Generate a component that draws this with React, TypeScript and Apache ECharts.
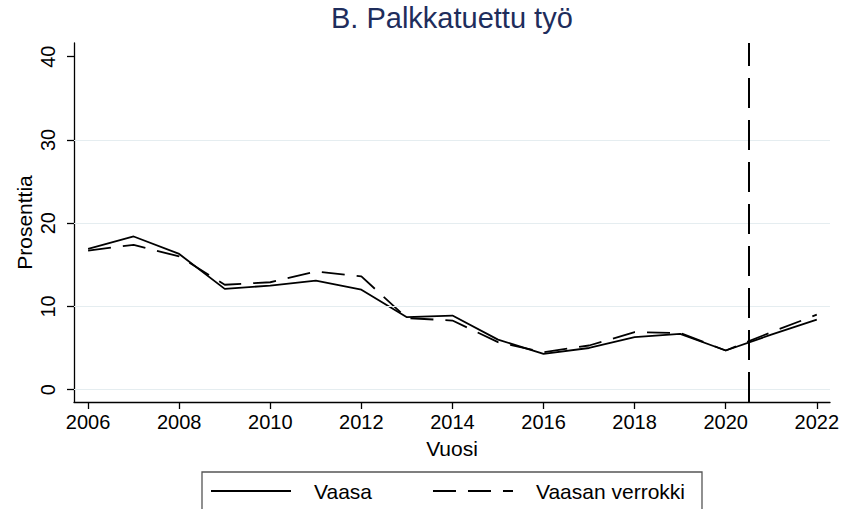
import React, { useEffect, useRef } from "react";
import * as echarts from "echarts";

const years = [2006, 2007, 2008, 2009, 2010, 2011, 2012, 2013, 2014, 2015, 2016, 2017, 2018, 2019, 2020, 2021, 2022];
const vaasa = [16.9, 18.4, 16.3, 12.1, 12.5, 13.1, 12.0, 8.7, 8.9, 6.0, 4.3, 5.0, 6.3, 6.7, 4.7, 6.6, 8.4];
const verrokki = [16.7, 17.4, 16.0, 12.6, 12.9, 14.2, 13.6, 8.6, 8.3, 5.7, 4.5, 5.3, 6.9, 6.8, 4.7, 6.9, 9.0];
const xTickLabels = [2006, 2008, 2010, 2012, 2014, 2016, 2018, 2020, 2022];
const yTickLabels = [0, 10, 20, 30, 40];
const gridValues = [0, 10, 20, 30];
const referenceYear = 2020.5;

const FONT = "'Liberation Sans', Arial, sans-serif";

export default function App() {
  const ref = useRef<HTMLDivElement>(null);
  useEffect(() => {
    if (!ref.current) return;
    const chart = echarts.init(ref.current, null, { renderer: "svg" });
    chart.setOption({
      animation: false,
      backgroundColor: "#ffffff",
      textStyle: { fontFamily: FONT },
      title: {
        text: "B. Palkkatuettu työ",
        left: 331,
        top: 2,
        padding: 0,
        textStyle: { fontFamily: FONT, fontSize: 29, fontWeight: "normal", color: "#1e2d5c", lineHeight: 32 },
      },
      legend: {
        data: ["Vaasa", "Vaasan verrokki"],
        left: 202,
        top: 472,
        orient: "horizontal",
        padding: [7, 17, 14, 8],
        itemGap: 60,
        itemWidth: 80,
        itemHeight: 14,
        borderColor: "#555555",
        borderWidth: 1.3,
        borderRadius: 0,
        itemStyle: { color: "rgba(0,0,0,0)", borderColor: "rgba(0,0,0,0)", borderWidth: 0 },
        textStyle: { fontFamily: FONT, fontSize: 21, color: "#000", lineHeight: 24, padding: [0, 0, 0, 18] },
      },
      grid: { left: 74, right: 16, top: 43, bottom: 107, containLabel: false },
      xAxis: {
        type: "value",
        min: 2005.69,
        max: 2022.29,
        name: "Vuosi",
        nameLocation: "middle",
        nameGap: 36,
        nameMoveOverlap: false,
        nameTextStyle: { fontFamily: FONT, fontSize: 21, color: "#000" },
        axisLine: { show: true, onZero: false, lineStyle: { color: "#000", width: 1.3 } },
        axisTick: { show: true, length: 7, lineStyle: { color: "#000", width: 1.3 }, customValues: xTickLabels },
        axisLabel: { fontFamily: FONT, fontSize: 20, color: "#000", margin: 10, customValues: xTickLabels, formatter: (v: number) => String(v) },
        splitLine: { show: false },
      },
      yAxis: {
        type: "value",
        min: -1.49,
        max: 41.65,
        name: "Prosenttia",
        nameLocation: "middle",
        nameGap: 39,
        nameMoveOverlap: false,
        nameTextStyle: { fontFamily: FONT, fontSize: 21, color: "#000" },
        axisLine: { show: true, onZero: false, lineStyle: { color: "#000", width: 1.3 } },
        axisTick: { show: true, length: 7, lineStyle: { color: "#000", width: 1.3 }, customValues: yTickLabels },
        axisLabel: { fontFamily: FONT, fontSize: 20, color: "#000", margin: 16, rotate: 90, customValues: yTickLabels, formatter: (v: number) => String(v) },
        splitLine: { show: false },
      },
      series: [
        {
          name: "grid",
          type: "line",
          data: [],
          z: 1,
          silent: true,
          markLine: {
            silent: true,
            symbol: "none",
            label: { show: false },
            lineStyle: { color: "#e5edf0", width: 1.2, type: "solid" },
            data: gridValues.map((v) => ({ yAxis: v })),
          },
        },
        {
          name: "Vaasa",
          type: "line",
          symbol: "none",
          z: 3,
          data: years.map((y, i) => [y, vaasa[i]]),
          lineStyle: { color: "#000", width: 1.8, type: "solid" },
          itemStyle: { color: "#000" },
          markLine: {
            silent: true,
            symbol: "none",
            label: { show: false },
            lineStyle: { color: "#000", width: 2, type: [30, 12] },
            data: [{ xAxis: referenceYear }],
          },
        },
        {
          name: "Vaasan verrokki",
          type: "line",
          symbol: "none",
          z: 3,
          data: years.map((y, i) => [y, verrokki[i]]),
          lineStyle: { color: "#000", width: 1.8, type: [23, 12] },
          itemStyle: { color: "#000" },
        },
      ],
    });
    return () => chart.dispose();
  }, []);
  return (
    <div
      ref={ref}
      style={{ position: "absolute", left: 0, top: 0, width: 846, height: 509 }}
    />
  );
}
